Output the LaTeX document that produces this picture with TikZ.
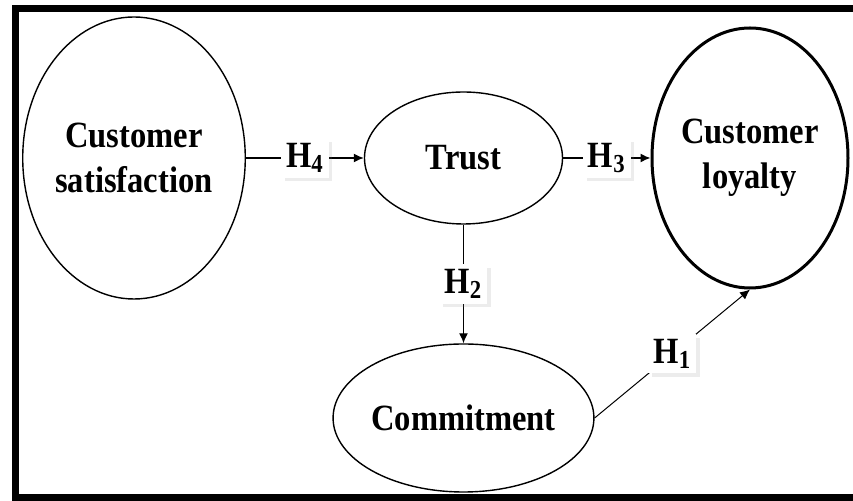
\documentclass[tikz,border=0pt]{standalone}
\usepackage{fontspec}
\setmainfont[FakeStretch=0.88]{Liberation Serif}
\usetikzlibrary{shapes.geometric, arrows.meta, shadows}

\tikzset{
  construct/.style={ellipse, draw, line width=0.7pt, fill=white, inner sep=0pt,
    align=center, font=\fontsize{18.5}{22.5}\selectfont\bfseries},
  hyp/.style={fill=white, inner sep=2.5pt, font=\fontsize{18.5}{20}\selectfont\bfseries,
    drop shadow={opacity=0.15, shadow xshift=1.8pt, shadow yshift=-1.8pt}},
  link/.style={line width=0.7pt, -{Latex[length=5pt, width=4.5pt]}}
}

\begin{document}
\begin{tikzpicture}[x=0.5pt, y=-0.5pt]
  \useasboundingbox (0,0) rectangle (853,501);
  % Frame
  \draw[line width=3.5pt] (15,8.5) rectangle (880,498);
  % Constructs
  \node[construct, minimum width=111pt, minimum height=141pt] (sat) at (134,158) {Customer\\satisfaction};
  \node[construct, minimum width=99pt, minimum height=66pt] (trust) at (463.5,158) {Trust};
  \node[construct, line width=1.5pt, minimum width=98pt, minimum height=130pt] (loy) at (750,158) {Customer\\loyalty};
  \node[construct, minimum width=101pt, minimum height=74pt] (com) at (463.5,418) {Commitment};
  % Hypotheses
  \draw[link] (sat) -- node[hyp] {H\textsubscript{4}} (trust);
  \draw[link] (trust) -- node[hyp] {H\textsubscript{3}} (loy);
  \draw[link] (trust) -- node[hyp] {H\textsubscript{2}} (com);
  \draw[link, line width=0.5pt] (com.east) -- node[hyp] {H\textsubscript{1}} (loy.south);
\end{tikzpicture}
\end{document}
